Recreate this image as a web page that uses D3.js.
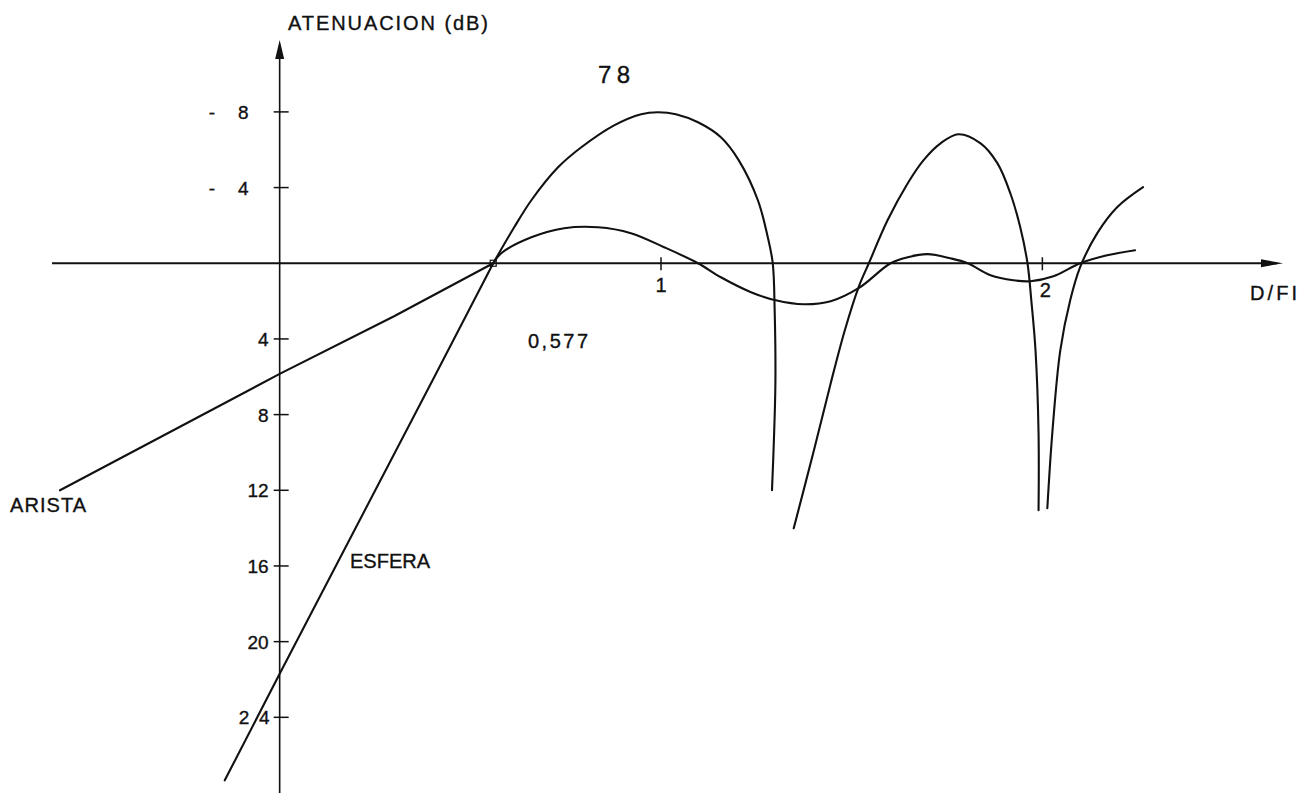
<!DOCTYPE html>
<html><head><meta charset="utf-8">
<script src="https://cdn.jsdelivr.net/npm/d3@7"></script>
<style>
html,body{margin:0;padding:0;background:#fff;overflow:hidden}
text{font-family:"Liberation Sans","DejaVu Sans",sans-serif;fill:#111;stroke:#111;stroke-width:0.35}
</style>
</head><body>
<svg id="c" width="1303" height="793"></svg>
<script>
// ---- data (D/FI, attenuation dB; negative = gain, drawn upward) ----
const yTickValues = [-8, -4, 4, 8, 12, 16, 20, 24];
const yTickLabels = ["- 8", "- 4", "4", "8", "12", "16", "20", "24"];
const xTickValues = [1, 2];
const xTickLabels = ["1", "2"];
const crossingD = 0.56;

const aristaLine = [[-0.576, 12.0], [0, 5.85], [0.3, 2.8], [0.56, 0]];
const aristaCurve = [[0.56, 0], [0.581, -0.53], [0.66, -1.37], [0.746, -1.85], [0.835, -1.90],
  [0.921, -1.59], [1.008, -0.85], [1.097, 0], [1.157, 0.74], [1.236, 1.53], [1.301, 1.96],
  [1.374, 2.17], [1.445, 2.01], [1.518, 1.32], [1.602, 0], [1.647, -0.32], [1.699, -0.48],
  [1.759, -0.26], [1.804, 0], [1.864, 0.63], [1.924, 0.90], [1.969, 0.95], [2.029, 0.69],
  [2.099, 0], [2.17, -0.42], [2.243, -0.69]];

const esferaLine = [[-0.144, 27.33], [0, 21.7], [0.4, 6.22], [0.56, 0]];
const esferaLobe1 = [[0.56, 0], [0.615, -1.90], [0.66, -3.33], [0.73, -5.07], [0.791, -6.13],
  [0.877, -7.29], [0.948, -7.88], [0.992, -7.98], [1.039, -7.88], [1.097, -7.45], [1.157, -6.66],
  [1.204, -5.44], [1.254, -3.33], [1.28, -1.37], [1.293, 0], [1.298, 2.48], [1.30, 6.18],
  [1.296, 9.36], [1.291, 12.0]];
const esferaLobe2 = [[1.348, 14.01], [1.401, 9.88], [1.445, 6.34], [1.482, 3.54], [1.518, 1.27],
  [1.545, 0], [1.594, -2.27], [1.647, -4.23], [1.688, -5.44], [1.733, -6.34], [1.78, -6.82],
  [1.838, -6.34], [1.882, -5.29], [1.916, -3.70], [1.942, -1.90], [1.961, 0], [1.971, 1.96],
  [1.982, 4.60], [1.99, 8.99], [1.99, 13.05]];
const esferaLobe3 = [[2.013, 12.95], [2.026, 8.99], [2.047, 4.6], [2.073, 1.96], [2.099, 0.21],
  [2.144, -1.59], [2.196, -2.96], [2.264, -4.02]];

// ---- drawing ----
const svg = d3.select("#c");
const x = d3.scaleLinear().domain([-0.597, 2.631]).range([52, 1283]);
const y = d3.scaleLinear().domain([-11.8, 28.0]).range([40, 793]);
const ink = "#111";

// axes
const x0 = x(0), y0 = y(0);
svg.append("line").attr("x1", x(-0.597)).attr("x2", x(2.631) - 6).attr("y1", y0).attr("y2", y0)
  .attr("stroke", ink).attr("stroke-width", 1.8);
svg.append("path").attr("d", `M${x(2.631)},${y0} L${x(2.631) - 22},${y0 - 4} L${x(2.631) - 22},${y0 + 4} Z`)
  .attr("fill", ink);
svg.append("line").attr("x1", x0).attr("x2", x0).attr("y1", y(28.0)).attr("y2", y(-11.8) + 6)
  .attr("stroke", ink).attr("stroke-width", 1.6);
svg.append("path").attr("d", `M${x0},${y(-11.8)} L${x0 - 4.5},${y(-11.8) + 19} L${x0 + 4.5},${y(-11.8) + 19} Z`)
  .attr("fill", ink);

// y ticks
const yt = svg.append("g");
yTickValues.forEach((v, i) => {
  yt.append("line").attr("x1", x0 - 6).attr("x2", x0 + 9).attr("y1", y(v)).attr("y2", y(v))
    .attr("stroke", ink).attr("stroke-width", 1.5);
  const neg = v < 0;
  const t = yt.append("text").attr("text-anchor", "end")
    .attr("x", x0 - 11).attr("y", y(v) + 7)
    .attr("font-size", 19).text(yTickLabels[i]);
  if (yTickLabels[i] === "24") {
    t.attr("text-anchor", "start").attr("x", x0 - 41).attr("textLength", 31).attr("lengthAdjust", "spacing");
  }
  if (neg) t.attr("textLength", 40).attr("lengthAdjust", "spacing").attr("text-anchor", "start").attr("x", x0 - 71);
});

// x ticks
xTickValues.forEach((v, i) => {
  svg.append("line").attr("x1", x(v)).attr("x2", x(v)).attr("y1", y0 - 6).attr("y2", y0 + 7)
    .attr("stroke", ink).attr("stroke-width", 1.5);
  svg.append("text").attr("text-anchor", "middle").attr("x", x(v) + (i ? 3 : 0))
    .attr("y", y0 + (i ? 34 : 29)).attr("font-size", 20).text(xTickLabels[i]);
});

// curves
const lineLin = d3.line().x(d => x(d[0])).y(d => y(d[1])).curve(d3.curveLinear);
const lineSmooth = d3.line().x(d => x(d[0])).y(d => y(d[1])).curve(d3.curveCatmullRom.alpha(0.5));
const g = svg.append("g").attr("fill", "none").attr("stroke", ink).attr("stroke-width", 2.1)
  .attr("stroke-linecap", "round").attr("stroke-linejoin", "round");
g.append("path").attr("d", lineLin(aristaLine));
g.append("path").attr("d", lineSmooth(aristaCurve));
g.append("path").attr("d", lineLin(esferaLine));
g.append("path").attr("d", lineSmooth(esferaLobe1));
g.append("path").attr("d", lineSmooth(esferaLobe2));
g.append("path").attr("d", lineSmooth(esferaLobe3));

// crossing marker
svg.append("rect").attr("x", x(crossingD) - 3).attr("y", y(0) - 3).attr("width", 6).attr("height", 6)
  .attr("fill", "none").attr("stroke", ink).attr("stroke-width", 1.2);

// labels
function label(txt, lx, ly, size, len) {
  svg.append("text").attr("x", lx).attr("y", ly).attr("font-size", size)
    .attr("textLength", len).attr("lengthAdjust", "spacing").text(txt);
}
label("ATENUACION  (dB)", 288, 30, 20, 200);
label("78", 598, 83, 24, 32);
label("0,577", 528, 348, 20, 60);
label("ARISTA", 10, 512, 20, 76);
label("ESFERA", 350, 568, 20, 80);
label("D/FI", 1250, 300, 20, 47);
</script>
</body></html>
